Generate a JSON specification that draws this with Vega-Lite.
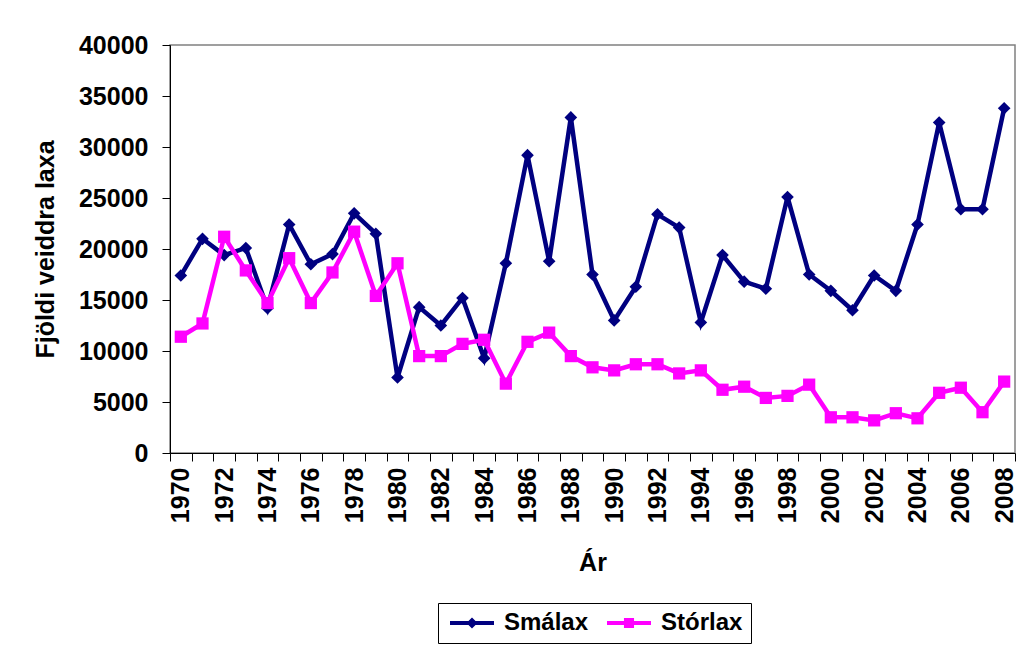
{
  "$schema": "https://vega.github.io/schema/vega-lite/v6.json",
  "autosize": "none",
  "width": 845,
  "height": 408,
  "padding": {"left": 170, "top": 45, "right": 3, "bottom": 197},
  "background": "white",
  "config": {
    "font": "Liberation Sans",
    "view": {"stroke": "#808080", "strokeWidth": 1.5},
    "axis": {
      "labelFont": "Liberation Sans",
      "titleFont": "Liberation Sans",
      "labelFontWeight": "bold",
      "titleFontWeight": "bold",
      "labelColor": "black",
      "titleColor": "black",
      "domainColor": "black",
      "tickColor": "black",
      "grid": false
    },
    "legend": {
      "labelFont": "Liberation Sans",
      "labelFontWeight": "bold",
      "labelColor": "black"
    }
  },
  "data": {
    "values": [
      {"Ar": 1970, "Tegund": "Smálax", "Fjoldi": 17400},
      {"Ar": 1971, "Tegund": "Smálax", "Fjoldi": 21000},
      {"Ar": 1972, "Tegund": "Smálax", "Fjoldi": 19400},
      {"Ar": 1973, "Tegund": "Smálax", "Fjoldi": 20100},
      {"Ar": 1974, "Tegund": "Smálax", "Fjoldi": 14200},
      {"Ar": 1975, "Tegund": "Smálax", "Fjoldi": 22400},
      {"Ar": 1976, "Tegund": "Smálax", "Fjoldi": 18500},
      {"Ar": 1977, "Tegund": "Smálax", "Fjoldi": 19500},
      {"Ar": 1978, "Tegund": "Smálax", "Fjoldi": 23500},
      {"Ar": 1979, "Tegund": "Smálax", "Fjoldi": 21500},
      {"Ar": 1980, "Tegund": "Smálax", "Fjoldi": 7400},
      {"Ar": 1981, "Tegund": "Smálax", "Fjoldi": 14300},
      {"Ar": 1982, "Tegund": "Smálax", "Fjoldi": 12500},
      {"Ar": 1983, "Tegund": "Smálax", "Fjoldi": 15200},
      {"Ar": 1984, "Tegund": "Smálax", "Fjoldi": 9300},
      {"Ar": 1985, "Tegund": "Smálax", "Fjoldi": 18600},
      {"Ar": 1986, "Tegund": "Smálax", "Fjoldi": 29200},
      {"Ar": 1987, "Tegund": "Smálax", "Fjoldi": 18800},
      {"Ar": 1988, "Tegund": "Smálax", "Fjoldi": 32900},
      {"Ar": 1989, "Tegund": "Smálax", "Fjoldi": 17500},
      {"Ar": 1990, "Tegund": "Smálax", "Fjoldi": 13000},
      {"Ar": 1991, "Tegund": "Smálax", "Fjoldi": 16300},
      {"Ar": 1992, "Tegund": "Smálax", "Fjoldi": 23400},
      {"Ar": 1993, "Tegund": "Smálax", "Fjoldi": 22100},
      {"Ar": 1994, "Tegund": "Smálax", "Fjoldi": 12800},
      {"Ar": 1995, "Tegund": "Smálax", "Fjoldi": 19400},
      {"Ar": 1996, "Tegund": "Smálax", "Fjoldi": 16800},
      {"Ar": 1997, "Tegund": "Smálax", "Fjoldi": 16100},
      {"Ar": 1998, "Tegund": "Smálax", "Fjoldi": 25100},
      {"Ar": 1999, "Tegund": "Smálax", "Fjoldi": 17500},
      {"Ar": 2000, "Tegund": "Smálax", "Fjoldi": 15900},
      {"Ar": 2001, "Tegund": "Smálax", "Fjoldi": 14000},
      {"Ar": 2002, "Tegund": "Smálax", "Fjoldi": 17400},
      {"Ar": 2003, "Tegund": "Smálax", "Fjoldi": 15900},
      {"Ar": 2004, "Tegund": "Smálax", "Fjoldi": 22400},
      {"Ar": 2005, "Tegund": "Smálax", "Fjoldi": 32400},
      {"Ar": 2006, "Tegund": "Smálax", "Fjoldi": 23900},
      {"Ar": 2007, "Tegund": "Smálax", "Fjoldi": 23900},
      {"Ar": 2008, "Tegund": "Smálax", "Fjoldi": 33800},
      {"Ar": 1970, "Tegund": "Stórlax", "Fjoldi": 11400},
      {"Ar": 1971, "Tegund": "Stórlax", "Fjoldi": 12700},
      {"Ar": 1972, "Tegund": "Stórlax", "Fjoldi": 21200},
      {"Ar": 1973, "Tegund": "Stórlax", "Fjoldi": 17900},
      {"Ar": 1974, "Tegund": "Stórlax", "Fjoldi": 14700},
      {"Ar": 1975, "Tegund": "Stórlax", "Fjoldi": 19100},
      {"Ar": 1976, "Tegund": "Stórlax", "Fjoldi": 14700},
      {"Ar": 1977, "Tegund": "Stórlax", "Fjoldi": 17700},
      {"Ar": 1978, "Tegund": "Stórlax", "Fjoldi": 21700},
      {"Ar": 1979, "Tegund": "Stórlax", "Fjoldi": 15400},
      {"Ar": 1980, "Tegund": "Stórlax", "Fjoldi": 18600},
      {"Ar": 1981, "Tegund": "Stórlax", "Fjoldi": 9500},
      {"Ar": 1982, "Tegund": "Stórlax", "Fjoldi": 9500},
      {"Ar": 1983, "Tegund": "Stórlax", "Fjoldi": 10700},
      {"Ar": 1984, "Tegund": "Stórlax", "Fjoldi": 11100},
      {"Ar": 1985, "Tegund": "Stórlax", "Fjoldi": 6800},
      {"Ar": 1986, "Tegund": "Stórlax", "Fjoldi": 10900},
      {"Ar": 1987, "Tegund": "Stórlax", "Fjoldi": 11800},
      {"Ar": 1988, "Tegund": "Stórlax", "Fjoldi": 9500},
      {"Ar": 1989, "Tegund": "Stórlax", "Fjoldi": 8400},
      {"Ar": 1990, "Tegund": "Stórlax", "Fjoldi": 8100},
      {"Ar": 1991, "Tegund": "Stórlax", "Fjoldi": 8700},
      {"Ar": 1992, "Tegund": "Stórlax", "Fjoldi": 8700},
      {"Ar": 1993, "Tegund": "Stórlax", "Fjoldi": 7800},
      {"Ar": 1994, "Tegund": "Stórlax", "Fjoldi": 8100},
      {"Ar": 1995, "Tegund": "Stórlax", "Fjoldi": 6200},
      {"Ar": 1996, "Tegund": "Stórlax", "Fjoldi": 6500},
      {"Ar": 1997, "Tegund": "Stórlax", "Fjoldi": 5400},
      {"Ar": 1998, "Tegund": "Stórlax", "Fjoldi": 5600},
      {"Ar": 1999, "Tegund": "Stórlax", "Fjoldi": 6700},
      {"Ar": 2000, "Tegund": "Stórlax", "Fjoldi": 3500},
      {"Ar": 2001, "Tegund": "Stórlax", "Fjoldi": 3500},
      {"Ar": 2002, "Tegund": "Stórlax", "Fjoldi": 3200},
      {"Ar": 2003, "Tegund": "Stórlax", "Fjoldi": 3900},
      {"Ar": 2004, "Tegund": "Stórlax", "Fjoldi": 3400},
      {"Ar": 2005, "Tegund": "Stórlax", "Fjoldi": 5900},
      {"Ar": 2006, "Tegund": "Stórlax", "Fjoldi": 6400},
      {"Ar": 2007, "Tegund": "Stórlax", "Fjoldi": 4000},
      {"Ar": 2008, "Tegund": "Stórlax", "Fjoldi": 7000}
    ]
  },
  "encoding": {
    "x": {
      "field": "Ar",
      "type": "quantitative",
      "scale": {"domain": [1969.5, 2008.5], "nice": false, "zero": false},
      "axis": {
        "title": "Ár",
        "titleFontSize": 25,
        "titlePadding": 28,
        "labelFontSize": 25,
        "labelAngle": 270,
        "labelPadding": 6,
        "labelOffset": 10.83,
        "tickSize": 8,
        "labelOverlap": false,
        "labelFlush": false,
        "labelBound": false,
        "values": [1969.5, 1970.5, 1971.5, 1972.5, 1973.5, 1974.5, 1975.5, 1976.5, 1977.5, 1978.5, 1979.5, 1980.5, 1981.5, 1982.5, 1983.5, 1984.5, 1985.5, 1986.5, 1987.5, 1988.5, 1989.5, 1990.5, 1991.5, 1992.5, 1993.5, 1994.5, 1995.5, 1996.5, 1997.5, 1998.5, 1999.5, 2000.5, 2001.5, 2002.5, 2003.5, 2004.5, 2005.5, 2006.5, 2007.5, 2008.5],
        "labelExpr": "(datum.value + 0.5) % 2 === 0 ? format(datum.value + 0.5, 'd') : ''"
      }
    },
    "y": {
      "field": "Fjoldi",
      "type": "quantitative",
      "scale": {"domain": [0, 40000], "nice": false},
      "axis": {
        "title": "Fjöldi veiddra laxa",
        "titleFontSize": 25,
        "titlePadding": 20,
        "labelFontSize": 25,
        "labelPadding": 14,
        "tickSize": 8,
        "format": "d",
        "values": [0, 5000, 10000, 15000, 20000, 25000, 30000, 35000, 40000]
      }
    }
  },
  "layer": [
    {
      "transform": [{"filter": "datum.Tegund === 'Smálax'"}],
      "mark": {"type": "line", "color": "#000080", "strokeWidth": 4.5}
    },
    {
      "transform": [{"filter": "datum.Tegund === 'Smálax'"}],
      "mark": {"type": "point", "shape": "diamond", "filled": true, "color": "#000080", "size": 160, "opacity": 1}
    },
    {
      "transform": [{"filter": "datum.Tegund === 'Stórlax'"}],
      "mark": {"type": "line", "color": "#FF00FF", "strokeWidth": 4.5}
    },
    {
      "transform": [{"filter": "datum.Tegund === 'Stórlax'"}],
      "mark": {"type": "point", "shape": "square", "filled": true, "color": "#FF00FF", "size": 150, "opacity": 1}
    },
    {
      "transform": [{"filter": "false"}],
      "mark": {"type": "point", "filled": true, "opacity": 1, "size": 256},
      "encoding": {
        "color": {
          "field": "Tegund",
          "type": "nominal",
          "scale": {"domain": ["Smálax", "Stórlax"], "range": ["#000080", "#FF00FF"]},
          "legend": {
            "title": null,
            "orient": "none",
            "legendX": 268,
            "legendY": 558,
            "direction": "horizontal",
            "strokeColor": "black",
            "fillColor": "white",
            "padding": 8,
            "labelFontSize": 24,
            "labelOffset": 34,
            "columnPadding": 14,
            "symbolSize": 256,
            "symbolStrokeWidth": 0,
            "symbolOpacity": 1
          }
        },
        "shape": {
          "field": "Tegund",
          "type": "nominal",
          "scale": {"domain": ["Smálax", "Stórlax"], "range": ["M-1,-0.25H4.5V0.25H-1Z M1.75,-0.69L2.44,0L1.75,0.69L1.06,0Z", "M-1,-0.25H4.5V0.25H-1Z M1.12,-0.63H2.38V0.63H1.12Z"]},
          "legend": {
            "title": null,
            "orient": "none",
            "legendX": 268,
            "legendY": 558,
            "direction": "horizontal",
            "strokeColor": "black",
            "fillColor": "white",
            "padding": 8,
            "labelFontSize": 24,
            "labelOffset": 34,
            "columnPadding": 14,
            "symbolSize": 256,
            "symbolStrokeWidth": 0,
            "symbolOpacity": 1
          }
        }
      }
    }
  ]
}
